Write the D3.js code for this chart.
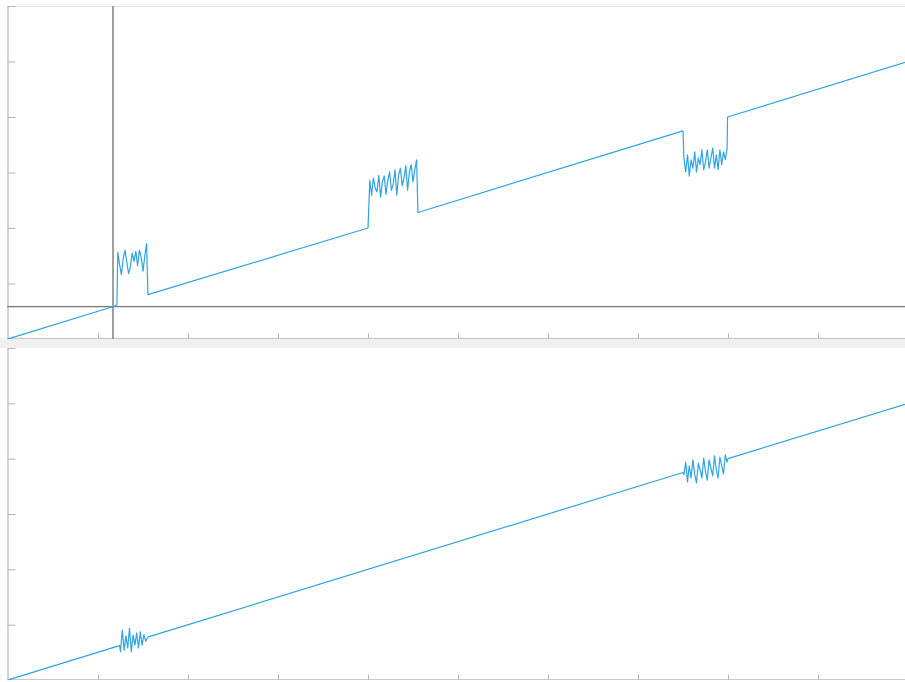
<!DOCTYPE html>
<html>
<head>
<meta charset="utf-8">
<script src="https://cdn.jsdelivr.net/npm/d3@7"></script>
<style>
  html, body { margin: 0; padding: 0; background: #ffffff; }
  svg { display: block; }
</style>
</head>
<body>
<svg id="chart" width="905" height="682"></svg>
<script>
// Sampling interval of the noisy stretches (time units)
const sampleStep = 0.02;

// Upper trace: ramp pieces (x, y vertices) and the noisy stretches between them
const topRampA = [[0, 0], [1.19, 0.595], [1.21, 0.62]];
const topBurst1Start = 1.22;
const topBurst1 = [1.56, 1.34, 1.16, 1.45, 1.60, 1.38, 1.18, 1.30, 1.55, 1.40,
                   1.58, 1.32, 1.60, 1.47, 1.22, 1.50, 1.72];
const topRampB = [[1.555, 0.80], [4.00, 2.00]];
const topBurst2Start = 4.02;
const topBurst2 = [2.86, 2.59, 2.90, 2.72, 2.65, 2.95, 2.56, 2.83, 2.94, 2.61,
                   2.86, 3.01, 2.68, 2.79, 3.05, 2.59, 2.95, 3.08, 2.76, 2.90,
                   3.12, 2.68, 3.01, 3.14, 2.83, 3.05, 3.23];
const topRampC = [[4.555, 2.28], [7.50, 3.75]];
const topBurst3Start = 7.51;
const topBurst3 = [3.26, 3.01, 3.32, 2.94, 3.23, 3.08, 3.37, 3.01, 3.26, 3.14,
                   3.41, 3.05, 3.19, 3.41, 3.08, 3.26, 3.44, 3.08, 3.32, 3.05,
                   3.41, 3.14, 3.37, 3.23, 3.44];
const topRampD = [[7.995, 4.00], [10, 5.00]];

// Lower trace: one straight ramp with two noisy stretches
const botRampA = [[0, 0], [1.24, 0.62]];
const botBurst1Start = 1.25;
const botBurst1 = [0.51, 0.90, 0.54, 0.80, 0.58, 0.94, 0.51, 0.81, 0.63, 0.85,
                   0.58, 0.87, 0.63, 0.82, 0.70, 0.76];
const botRampB = [[1.56, 0.78], [7.50, 3.75]];
const botBurst3Start = 7.51;
const botBurst3 = [3.71, 3.94, 3.58, 3.87, 3.65, 3.98, 3.72, 3.56, 3.92, 3.80,
                   3.65, 4.01, 3.76, 3.61, 3.98, 3.83, 3.69, 4.05, 3.80, 3.65,
                   4.03, 3.87, 3.72, 4.07, 3.94];
const botRampC = [[8.00, 4.00], [10, 5.00]];

// Cursor position marked on the upper panel
const cursorX = 1.1667;
const cursorY = 0.583;

// Axis ticks (unlabelled)
const xTicks = [1, 2, 3, 4, 5, 6, 7, 8, 9];
const yTicks = [1, 2, 3, 4, 5, 6];

const burst = (start, vals) => vals.map((v, i) => [start + i * sampleStep, v]);

const topSeries = [
  ...topRampA, ...burst(topBurst1Start, topBurst1),
  ...topRampB, ...burst(topBurst2Start, topBurst2),
  ...topRampC, ...burst(topBurst3Start, topBurst3),
  ...topRampD
];
const botSeries = [
  ...botRampA, ...burst(botBurst1Start, botBurst1),
  ...botRampB, ...burst(botBurst3Start, botBurst3),
  ...botRampC
];

const svg = d3.select("#chart");
const W = 905;
const x = d3.scaleLinear().domain([0, 10]).range([8, 908]);
const plotRight = W;

const panels = [
  { top: 6, bottom: 339, series: topSeries, cursor: true },
  { top: 348, bottom: 680, series: botSeries, cursor: false }
];

// separator band between the two panels
svg.append("rect")
  .attr("x", 0).attr("y", 337.5).attr("width", W).attr("height", 10.5)
  .attr("fill", "#f0f0f0");

panels.forEach((p, i) => {
  const y = d3.scaleLinear().domain([0, 6]).range([p.bottom, p.top]);
  const g = svg.append("g");

  const clipId = "clip" + i;
  svg.append("clipPath").attr("id", clipId)
    .append("rect")
    .attr("x", 8).attr("y", p.top)
    .attr("width", plotRight - 8).attr("height", p.bottom - p.top);

  // top frame line
  if (i === 0) {
    g.append("line")
      .attr("x1", 7).attr("x2", plotRight)
      .attr("y1", p.top + 0.5).attr("y2", p.top + 0.5)
      .attr("stroke", "#e6e6e6").attr("stroke-width", 1);
  }

  // bottom axis, ticks pointing inwards
  const xAxis = g.append("g")
    .attr("transform", `translate(0,${p.bottom - 0.5})`)
    .call(d3.axisBottom(x).tickValues(xTicks).tickSizeInner(-5).tickSizeOuter(0).tickFormat(""));
  xAxis.select(".domain").attr("stroke", "#c8c8c8").attr("d", `M7,0H${plotRight}`);
  xAxis.selectAll(".tick line").attr("stroke", "#b4b4b4");

  // left axis, ticks pointing inwards
  const yAxis = g.append("g")
    .attr("transform", "translate(7.5,0)")
    .call(d3.axisLeft(y).tickValues(yTicks).tickSizeInner(-8).tickSizeOuter(0).tickFormat(""));
  yAxis.select(".domain").attr("stroke", "#a8a8a8");
  yAxis.selectAll(".tick line").attr("stroke", "#b4b4b4");

  // cursor cross-hair
  if (p.cursor) {
    g.append("line")
      .attr("x1", 7).attr("x2", plotRight)
      .attr("y1", y(cursorY)).attr("y2", y(cursorY))
      .attr("stroke", "#777777").attr("stroke-width", 1.2);
    g.append("line")
      .attr("x1", x(cursorX)).attr("x2", x(cursorX))
      .attr("y1", p.top).attr("y2", p.bottom)
      .attr("stroke", "#777777").attr("stroke-width", 1.4);
  }

  const line = d3.line().x(d => x(d[0])).y(d => y(d[1]));
  g.append("path")
    .datum(p.series)
    .attr("clip-path", `url(#${clipId})`)
    .attr("fill", "none")
    .attr("stroke", "#2fa4e2")
    .attr("stroke-width", 1.2)
    .attr("stroke-linejoin", "round")
    .attr("d", line);
});
</script>
</body>
</html>
